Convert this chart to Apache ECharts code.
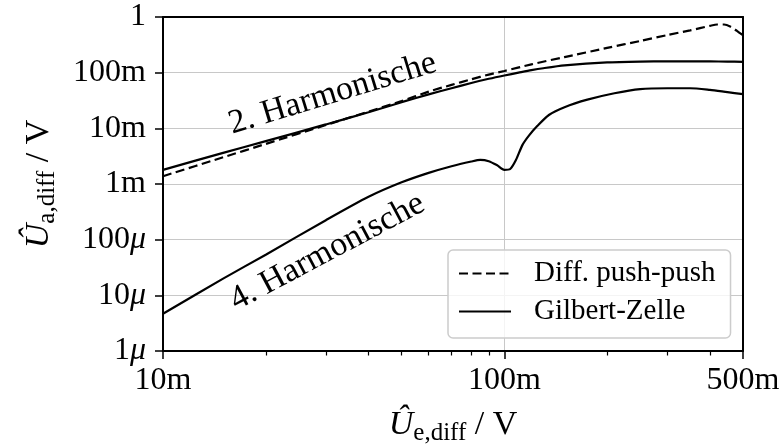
<!DOCTYPE html>
<html><head><meta charset="utf-8">
<script src="https://cdn.jsdelivr.net/npm/echarts@6/dist/echarts.min.js"></script>
<style>html,body{margin:0;padding:0;background:#fff}#c{width:784px;height:446px}</style>
</head><body><div id="c"></div>
<script>
// ---- data (V) ----
const xPushPush = [0.01, 0.015, 0.02, 0.03, 0.04, 0.05, 0.06, 0.07, 0.08, 0.09, 0.1, 0.12, 0.15, 0.2, 0.25, 0.3, 0.35, 0.4, 0.42, 0.44, 0.46, 0.48, 0.49, 0.5];
const yPushPush = [1.38e-3, 3.02e-3, 5.25e-3, 0.01148, 0.01995, 0.0309, 0.0457, 0.0603, 0.0759, 0.0923, 0.1072, 0.1413, 0.1905, 0.2786, 0.3715, 0.4732, 0.5754, 0.6918, 0.7328, 0.7328, 0.6683, 0.5623, 0.5129, 0.4677];
const xGilbert2 = [0.01, 0.015, 0.02, 0.03, 0.04, 0.05, 0.06, 0.07, 0.08, 0.09, 0.1, 0.11, 0.12, 0.13, 0.15, 0.2, 0.25, 0.3, 0.35, 0.4, 0.45, 0.5];
const yGilbert2 = [1.795e-3, 3.631e-3, 5.888e-3, 0.01175, 0.0195, 0.0295, 0.0407, 0.0525, 0.0653, 0.0776, 0.0891, 0.1, 0.1109, 0.1202, 0.1349, 0.1531, 0.1585, 0.1596, 0.16, 0.1596, 0.158, 0.1567];
const xGilbert4 = [0.01, 0.015, 0.02, 0.03, 0.04, 0.05, 0.06, 0.07, 0.08, 0.085, 0.09, 0.095, 0.1, 0.104, 0.108, 0.113, 0.118, 0.125, 0.135, 0.15, 0.175, 0.21, 0.25, 0.3, 0.35, 0.4, 0.45, 0.5];
const yGilbert4 = [4.677e-6, 1.995e-5, 5.37e-5, 2.239e-4, 5.888e-4, 1.072e-3, 1.585e-3, 2.089e-3, 2.535e-3, 2.71e-3, 2.57e-3, 2.188e-3, 1.795e-3, 1.862e-3, 2.661e-3, 5.047e-3, 7.413e-3, 0.01109, 0.01738, 0.02399, 0.03273, 0.04266, 0.0507, 0.05248, 0.05248, 0.04898, 0.04467, 0.04121];

const xMajorTicks = [0.01, 0.1, 0.5];
const xMajorLabels = ['10m', '100m', '500m'];
const xMinorTicks = [0.02, 0.03, 0.04, 0.05, 0.06, 0.07, 0.08, 0.09, 0.2, 0.3, 0.4];
const yTicks = [1e-6, 1e-5, 1e-4, 1e-3, 1e-2, 1e-1, 1];
const yLabels = ['1μ', '10μ', '100μ', '1m', '10m', '100m', '1'];
const seriesNames = ['Diff. push-push', 'Gilbert-Zelle'];
const annotations = [
  { text: '2. Harmonische', x: 0.0314, y: 0.0418, angle: 17 },
  { text: '4. Harmonische', x: 0.0303, y: 6.0e-5, angle: 28 }
];

const FONT = '"Liberation Serif", "DejaVu Serif", serif';
const zip = (xs, ys) => xs.map((x, i) => [x, ys[i]]);
const nearestIdx = (arr, v) => {
  let best = 0, bd = Infinity;
  arr.forEach((a, i) => { const d = Math.abs(Math.log10(a) - Math.log10(v)); if (d < bd) { bd = d; best = i; } });
  return best;
};
const toRich = s => s.replace(/μ/g, '{i|μ}').replace(/^([^{]+)/, '{n|$1}');
const titleRich = {
  u: { fontFamily: FONT, fontSize: 34, fontStyle: 'italic', color: '#000', lineHeight: 42, verticalAlign: 'middle' },
  s: { fontFamily: FONT, fontSize: 25, color: '#000', lineHeight: 28, verticalAlign: 'bottom' },
  n: { fontFamily: FONT, fontSize: 34, color: '#000', lineHeight: 42, verticalAlign: 'middle' }
};

const chart = echarts.init(document.getElementById('c'), null, { renderer: 'canvas' });
const lineBase = { type: 'line', symbol: 'none', smooth: 0.25, animation: false, clip: true, xAxisIndex: 0, yAxisIndex: 0 };

const option = {
  animation: false,
  backgroundColor: '#fff',
  grid: { left: 163, top: 17, width: 580, height: 334, containLabel: false, outerBoundsMode: 'none' },
  xAxis: [
    {
      type: 'log', min: 0.01, max: 0.5, logBase: 10, position: 'bottom',
      axisLine: { show: true, lineStyle: { color: '#000', width: 2 } },
      axisTick: { show: true, customValues: xMajorTicks, length: 8, lineStyle: { color: '#000', width: 1.5 } },
      axisLabel: {
        customValues: xMajorTicks, margin: 14, color: '#000', fontFamily: FONT, fontSize: 32,
        formatter: v => xMajorLabels[nearestIdx(xMajorTicks, v)]
      },
      splitLine: { show: true, showMinLine: false, showMaxLine: false, lineStyle: { color: '#c8c8c8', width: 1 } },
      name: '{u|Û}{s|e,diff}{n| / V}', nameLocation: 'middle', nameGap: 53,
      nameTextStyle: { rich: titleRich }
    },
    {
      type: 'log', min: 0.01, max: 0.5, logBase: 10, position: 'bottom', gridIndex: 0,
      axisLine: { show: false },
      axisTick: { show: true, customValues: xMinorTicks, length: 4.5, lineStyle: { color: '#000', width: 1.2 } },
      axisLabel: { show: false }, splitLine: { show: false }
    },
    {
      type: 'log', min: 0.01, max: 0.5, logBase: 10, position: 'top', z: 10,
      axisLine: { show: true, onZero: false, lineStyle: { color: '#000', width: 2 } },
      axisTick: { show: false }, axisLabel: { show: false }, splitLine: { show: false }
    }
  ],
  yAxis: [
    {
      type: 'log', min: 1e-6, max: 1, logBase: 10, position: 'left',
      axisLine: { show: true, lineStyle: { color: '#000', width: 2 } },
      axisTick: { show: true, customValues: yTicks, length: 8, lineStyle: { color: '#000', width: 1.5 } },
      axisLabel: {
        customValues: yTicks, margin: 17, color: '#000', fontFamily: FONT, fontSize: 32,
        formatter: v => toRich(yLabels[nearestIdx(yTicks, v)]),
        rich: {
          n: { fontFamily: FONT, fontSize: 32, color: '#000' },
          i: { fontFamily: FONT, fontSize: 32, fontStyle: 'italic', color: '#000' }
        }
      },
      splitLine: { show: true, showMinLine: false, showMaxLine: false, lineStyle: { color: '#c8c8c8', width: 1 } },
      name: '{u|Û}{s|a,diff}{n| / V}', nameLocation: 'middle', nameGap: 103, nameRotate: 90,
      nameTextStyle: { rich: titleRich }
    },
    {
      type: 'log', min: 1e-6, max: 1, logBase: 10, position: 'right', z: 10,
      axisLine: { show: true, onZero: false, lineStyle: { color: '#000', width: 2 } },
      axisTick: { show: false }, axisLabel: { show: false }, splitLine: { show: false }
    }
  ],
  legend: {
    orient: 'vertical', left: 448, top: 250,
    data: seriesNames,
    itemWidth: 52, itemHeight: 14, itemGap: 9,
    padding: [9, 15, 12, 10],
    backgroundColor: 'rgba(255,255,255,0.8)',
    borderColor: '#cccccc', borderWidth: 1.5, borderRadius: 5,
    itemStyle: { opacity: 0 },
    textStyle: { fontFamily: FONT, fontSize: 29, color: '#000', lineHeight: 28, padding: [0, 0, 0, 18] },
    z: 20
  },
  series: [
    Object.assign({}, lineBase, { name: seriesNames[0], data: zip(xPushPush, yPushPush), lineStyle: { color: '#000', width: 2.2, type: [9, 4.5] }, itemStyle: { color: '#000' } }),
    Object.assign({}, lineBase, { name: seriesNames[1], data: zip(xGilbert2, yGilbert2), lineStyle: { color: '#000', width: 2.2, type: 'solid' }, itemStyle: { color: '#000' } }),
    Object.assign({}, lineBase, { name: seriesNames[1], data: zip(xGilbert4, yGilbert4), lineStyle: { color: '#000', width: 2.2, type: 'solid' }, itemStyle: { color: '#000' } })
  ]
};
chart.setOption(option);

const gfx = annotations.map(a => {
  const p = chart.convertToPixel({ seriesIndex: 0 }, [a.x, a.y]);
  return {
    type: 'text', x: p[0], y: p[1], rotation: a.angle * Math.PI / 180, z: 15,
    style: { text: a.text, fontFamily: 'Liberation Serif', fontSize: 34, fill: '#000', align: 'center', verticalAlign: 'middle' }
  };
});
chart.setOption({ graphic: gfx });
</script></body></html>
